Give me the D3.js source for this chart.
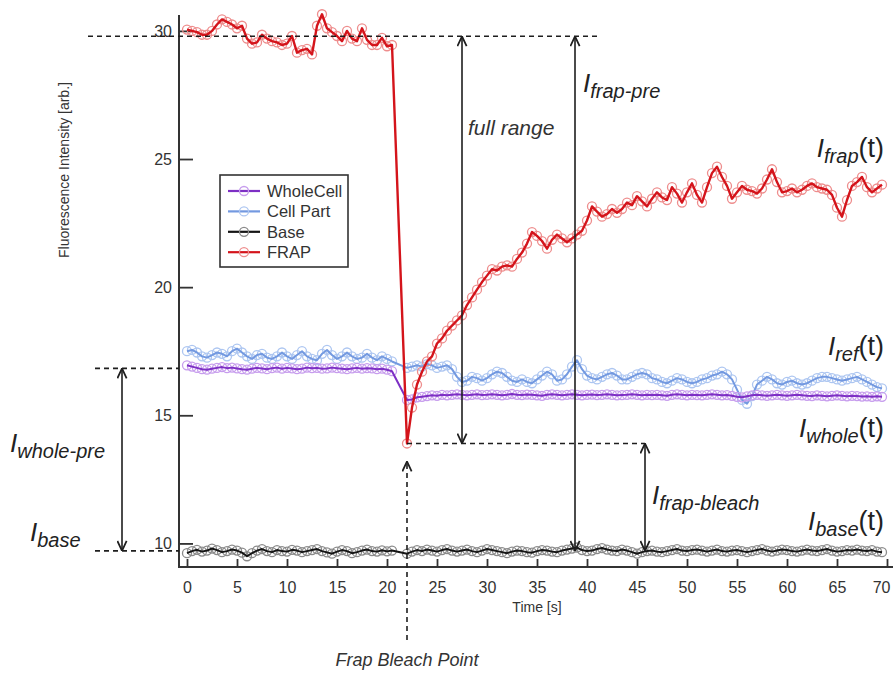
<!DOCTYPE html>
<html>
<head>
<meta charset="utf-8">
<script src="https://cdn.jsdelivr.net/npm/d3@7"></script>
<style>
  html, body { margin: 0; padding: 0; background: #fff; }
  svg { display: block; font-family: "Liberation Sans", Arial, Helvetica, sans-serif; }
</style>
</head>
<body>
<svg id="chart" width="893" height="675"></svg>
<script>
// Sampling grid (s): frames 21.0 and 21.5 are lost to the bleach pulse
const preTimes = d3.range(0, 21, 0.5);     // 0 .. 20.5
const postTimes = d3.range(22, 70, 0.5);   // 22 .. 69.5
const times = preTimes.concat(postTimes);

// Fluorescence intensity [arb.]
const frap = [
  30.05, 30.0, 29.95, 29.85, 29.85, 30.0, 30.25, 30.45, 30.35, 30.25,
  30.1, 30.2, 29.7, 29.5, 29.55, 29.85, 29.7, 29.6, 29.55, 29.45,
  29.5, 29.8, 29.15, 29.25, 29.3, 29.08, 30.2, 30.65, 30.1, 29.95,
  29.8, 29.6, 30.0, 29.7, 29.6, 30.1, 29.65, 29.45, 29.45, 29.73,
  29.4, 29.45,
  13.9, 15.3, 16.2, 16.7, 17.1, 17.3, 17.8, 18.0, 18.3, 18.5,
  18.7, 18.9, 19.3, 19.6, 19.9, 20.2, 20.45, 20.7, 20.65, 20.8,
  20.85, 20.8, 21.1, 21.35, 21.7, 22.15, 22.0, 21.8, 21.5, 21.85,
  22.05, 21.9, 21.75, 21.9, 22.05, 22.2, 22.6, 23.15, 22.95, 22.75,
  22.85, 23.05, 22.9, 23.05, 23.3, 23.2, 23.55, 23.35, 23.15, 23.45,
  23.7, 23.5, 23.4, 23.9, 23.65, 23.3, 23.7, 24.05, 23.6, 23.3,
  23.9, 24.45, 24.7, 24.3, 23.95, 23.45, 23.7, 23.95, 23.8, 23.75,
  23.65, 23.85, 24.2, 24.6, 24.1, 23.7, 23.75, 23.85, 23.7, 23.8,
  23.95, 24.05, 23.9, 23.85, 23.8, 23.6, 23.1, 22.75, 23.4, 23.95,
  24.1, 24.3, 23.9, 23.7, 23.85, 24.0
];

const wholeCell = [
  16.95, 16.9, 16.85, 16.8, 16.78, 16.82, 16.85, 16.88, 16.84, 16.86,
  16.83, 16.8, 16.78, 16.82, 16.85, 16.83, 16.8, 16.84, 16.86, 16.82,
  16.85, 16.83, 16.8, 16.82, 16.86, 16.84, 16.85, 16.82, 16.83, 16.86,
  16.84, 16.82, 16.8, 16.83, 16.85, 16.82, 16.84, 16.83, 16.8, 16.82,
  16.78, 16.72,
  15.6, 15.62, 15.7, 15.72, 15.75, 15.78, 15.76, 15.8, 15.78, 15.8,
  15.82, 15.8, 15.78, 15.8, 15.82, 15.79, 15.8, 15.82, 15.8, 15.78,
  15.8, 15.83, 15.8, 15.79, 15.81, 15.8, 15.78, 15.76, 15.8, 15.82,
  15.8, 15.78, 15.8, 15.82, 15.8, 15.78, 15.8, 15.81, 15.79, 15.8,
  15.82, 15.8, 15.78, 15.79, 15.8, 15.82, 15.8, 15.78, 15.8, 15.79,
  15.8, 15.78, 15.76, 15.8, 15.82, 15.8, 15.78, 15.8, 15.79, 15.78,
  15.8, 15.82, 15.8, 15.78, 15.79, 15.76, 15.72, 15.7, 15.74, 15.78,
  15.8, 15.78, 15.76, 15.78, 15.8, 15.78, 15.76, 15.78, 15.8, 15.78,
  15.76, 15.75, 15.78, 15.76, 15.74, 15.76, 15.78, 15.76, 15.74, 15.76,
  15.75, 15.73, 15.74, 15.72, 15.74, 15.72
];

const cellPart = [
  17.5, 17.55, 17.45, 17.3, 17.25, 17.35, 17.45, 17.4, 17.3, 17.5,
  17.6, 17.45, 17.3, 17.2, 17.35, 17.4, 17.25, 17.2, 17.3, 17.45,
  17.3, 17.2, 17.35, 17.5, 17.3, 17.2, 17.15, 17.4, 17.55, 17.35,
  17.2, 17.3, 17.45, 17.3, 17.2, 17.25, 17.4, 17.25, 17.15, 17.3,
  17.2, 17.1,
  16.85, 16.9, 16.95, 16.9, 17.0, 16.95, 16.85, 16.9, 16.95, 16.8,
  16.5, 16.3, 16.35, 16.5, 16.45, 16.35, 16.45, 16.6, 16.7, 16.65,
  16.5, 16.35, 16.3, 16.4, 16.3, 16.25, 16.4, 16.55, 16.7, 16.6,
  16.35, 16.4, 16.6, 16.9, 17.15, 16.8, 16.55, 16.45, 16.4, 16.5,
  16.6, 16.65, 16.55, 16.4, 16.4, 16.5, 16.6, 16.65, 16.6, 16.45,
  16.4, 16.3, 16.25, 16.35, 16.45, 16.4, 16.3, 16.25, 16.3, 16.4,
  16.45, 16.55, 16.6, 16.7, 16.6, 16.4, 16.0, 15.6, 15.45, 15.75,
  16.2, 16.35, 16.5, 16.4, 16.25, 16.2, 16.3, 16.35, 16.25, 16.2,
  16.25, 16.35, 16.45, 16.5, 16.5, 16.45, 16.4, 16.35, 16.4, 16.45,
  16.5, 16.4, 16.3, 16.2, 16.1, 16.05
];

const base = [
  9.62, 9.7, 9.75, 9.68, 9.72, 9.8, 9.74, 9.66, 9.7, 9.76,
  9.72, 9.64, 9.5, 9.62, 9.72, 9.78, 9.7, 9.66, 9.74, 9.7,
  9.68, 9.75, 9.72, 9.66, 9.7, 9.74, 9.78, 9.7, 9.65, 9.6,
  9.68, 9.74, 9.7, 9.62, 9.66, 9.72, 9.76, 9.7, 9.68, 9.73,
  9.69, 9.72,
  9.6, 9.68, 9.74, 9.7, 9.76, 9.72, 9.68, 9.74, 9.78, 9.72,
  9.68, 9.72, 9.76, 9.7, 9.66, 9.72, 9.78, 9.74, 9.7, 9.66,
  9.62, 9.68, 9.72, 9.7, 9.66, 9.64, 9.7, 9.74, 9.72, 9.68,
  9.66, 9.72, 9.76, 9.8, 9.84, 9.74, 9.7, 9.72, 9.78, 9.82,
  9.76, 9.72, 9.7, 9.76, 9.72, 9.66, 9.6, 9.66, 9.7, 9.72,
  9.68, 9.66, 9.7, 9.74, 9.78, 9.72, 9.7, 9.74, 9.76, 9.72,
  9.68, 9.72, 9.76, 9.7, 9.68, 9.72, 9.74, 9.7, 9.66, 9.7,
  9.74, 9.78, 9.72, 9.68, 9.72, 9.76, 9.74, 9.7, 9.68, 9.72,
  9.76, 9.72, 9.7, 9.74, 9.78, 9.72, 9.68, 9.7, 9.74, 9.72,
  9.76, 9.72, 9.7, 9.74, 9.68, 9.66
];

const xTicks = [0, 5, 10, 15, 20, 25, 30, 35, 40, 45, 50, 55, 60, 65, 70];
const yTicks = [10, 15, 20, 25, 30];

const seriesNames = ["WholeCell", "Cell Part", "Base", "FRAP"];
const seriesColors = {
  "WholeCell": { line: "#7d2fc4", ring: "#c79ded" },
  "Cell Part": { line: "#7399e0", ring: "#adc6f1" },
  "Base":      { line: "#151515", ring: "#8a8a8a" },
  "FRAP":      { line: "#d4141b", ring: "#ee8d8d" }
};
const seriesData = {
  "WholeCell": wholeCell, "Cell Part": cellPart, "Base": base, "FRAP": frap
};

// Time points used by the annotations (s)
const bleachTime = 22;
const fullRangeAt = 27.5;
const frapPreAt = 38.8;
const frapBleachAt = 45.8;

const svg = d3.select("#chart");
const x = d3.scaleLinear().domain([-0.8, 71]).range([179, 897]);
const y = d3.scaleLinear().domain([9.08, 30.62]).range([567, 15]);

const axisColor = "#333";

// ---- axes ----
const yAxis = svg.append("g")
  .attr("transform", `translate(${x(-0.8)},0)`)
  .call(d3.axisLeft(y).tickValues(yTicks).tickSize(-14).tickPadding(7).tickFormat(d3.format("d")));
yAxis.select(".domain").remove();
yAxis.selectAll(".tick line").attr("stroke", axisColor).attr("stroke-width", 1.8);
yAxis.selectAll(".tick text").attr("fill", "#333").attr("font-size", 16)
  .attr("font-family", "Liberation Sans, Arial, sans-serif");

const xAxis = svg.append("g")
  .attr("transform", `translate(0,${y(9.08)})`)
  .call(d3.axisBottom(x).tickValues(xTicks).tickSize(-8).tickPadding(14.5).tickFormat(d3.format("d")));
xAxis.select(".domain").remove();
xAxis.selectAll(".tick line").attr("stroke", axisColor).attr("stroke-width", 1.8);
xAxis.selectAll(".tick text").attr("fill", "#333").attr("font-size", 16)
  .attr("font-family", "Liberation Sans, Arial, sans-serif");
// the last label sits at the right border; keep it inside the frame
xAxis.selectAll(".tick text").filter(d => d === 70)
  .attr("text-anchor", "end").attr("dx", 3);

svg.append("line")
  .attr("x1", x(-0.8)).attr("x2", x(-0.8))
  .attr("y1", y(30.62)).attr("y2", y(9.08))
  .attr("stroke", axisColor).attr("stroke-width", 2);
svg.append("line")
  .attr("x1", x(-0.8) - 1).attr("x2", x(71))
  .attr("y1", y(9.08)).attr("y2", y(9.08))
  .attr("stroke", axisColor).attr("stroke-width", 2);

svg.append("text")
  .attr("transform", `translate(69,170) rotate(-90)`)
  .attr("text-anchor", "middle")
  .attr("font-size", 14).attr("fill", "#333")
  .text("Fluorescence Intensity [arb.]");

svg.append("text")
  .attr("x", x(35)).attr("y", 612)
  .attr("text-anchor", "middle")
  .attr("font-size", 14).attr("fill", "#333")
  .text("Time [s]");

// ---- series ----
const line = d3.line().x((d, i) => x(times[i])).y(d => y(d));
const drawOrder = ["Base", "Cell Part", "WholeCell", "FRAP"];
drawOrder.forEach(name => {
  const vals = seriesData[name];
  const c = seriesColors[name];
  const g = svg.append("g").attr("class", "series");
  g.selectAll("circle").data(vals).join("circle")
    .attr("cx", (d, i) => x(times[i]))
    .attr("cy", d => y(d))
    .attr("r", 4.5)
    .attr("fill", "none")
    .attr("stroke", c.ring)
    .attr("stroke-width", 1.3);
  g.append("path")
    .datum(vals)
    .attr("d", line)
    .attr("fill", "none")
    .attr("stroke", c.line)
    .attr("stroke-width", name === "FRAP" ? 2.4 : 2)
    .attr("stroke-linejoin", "round");
});

// ---- legend ----
const lg = svg.append("g");
lg.append("rect")
  .attr("x", 220).attr("y", 175).attr("width", 128).attr("height", 92)
  .attr("fill", "#fff").attr("stroke", "#333").attr("stroke-width", 1.6);
seriesNames.forEach((name, i) => {
  const cy = 191 + i * 20.4;
  const c = seriesColors[name];
  lg.append("line").attr("x1", 228).attr("x2", 260).attr("y1", cy).attr("y2", cy)
    .attr("stroke", c.line).attr("stroke-width", 2.2);
  lg.append("circle").attr("cx", 244).attr("cy", cy).attr("r", 4.5)
    .attr("fill", "none").attr("stroke", c.ring).attr("stroke-width", 1.3);
  lg.append("text").attr("x", 267).attr("y", cy).attr("dy", "0.35em")
    .attr("font-size", 16.5).attr("fill", "#333").text(name);
});

// ---- annotations ----
const ink = "#1e1e1e";
const defs = svg.append("defs");
defs.append("marker")
  .attr("id", "vhead")
  .attr("viewBox", "0 0 10 10")
  .attr("refX", 9.5).attr("refY", 5)
  .attr("markerWidth", 11).attr("markerHeight", 11)
  .attr("markerUnits", "userSpaceOnUse")
  .attr("orient", "auto-start-reverse")
  .append("path")
  .attr("d", "M0.5,0.8 L9.5,5 L0.5,9.2")
  .attr("fill", "none").attr("stroke", ink).attr("stroke-width", 1.6);

const frapPre = d3.mean(frap.slice(0, preTimes.length));
const wholePre = d3.mean(wholeCell.slice(0, preTimes.length));
const baseLevel = d3.mean(base);
const bleachValue = frap[preTimes.length];

function dashed(x1, y1, x2, y2) {
  svg.append("line")
    .attr("x1", x1).attr("y1", y1).attr("x2", x2).attr("y2", y2)
    .attr("stroke", ink).attr("stroke-width", 1.6)
    .attr("stroke-dasharray", "5,4");
}
function doubleArrow(t, v1, v2) {
  svg.append("line")
    .attr("x1", x(t)).attr("x2", x(t))
    .attr("y1", y(v1)).attr("y2", y(v2))
    .attr("stroke", ink).attr("stroke-width", 1.6)
    .attr("marker-start", "url(#vhead)")
    .attr("marker-end", "url(#vhead)");
}

dashed(x(-9.9), y(frapPre), x(41), y(frapPre));
dashed(x(-9.2), y(wholePre), x(-0.8), y(wholePre));
dashed(x(-9.2), y(baseLevel), x(-0.8), y(baseLevel));
dashed(x(bleachTime), y(bleachValue), x(frapBleachAt), y(bleachValue));

doubleArrow(-6.5, wholePre, baseLevel);
doubleArrow(fullRangeAt, frapPre, bleachValue);
doubleArrow(frapPreAt, frapPre, baseLevel);
doubleArrow(frapBleachAt, bleachValue, baseLevel);

// bleach point pointer
svg.append("line")
  .attr("x1", x(bleachTime)).attr("x2", x(bleachTime))
  .attr("y1", 640).attr("y2", y(bleachValue) + 18)
  .attr("stroke", ink).attr("stroke-width", 1.6)
  .attr("stroke-dasharray", "5,4")
  .attr("marker-end", "url(#vhead)");

svg.append("text")
  .attr("x", x(bleachTime)).attr("y", 666)
  .attr("text-anchor", "middle")
  .attr("font-size", 18).attr("font-style", "italic").attr("fill", "#333")
  .text("Frap Bleach Point");

svg.append("text")
  .attr("x", 468).attr("y", 135)
  .attr("font-size", 21).attr("font-style", "italic").attr("fill", "#333")
  .text("full range");

function symbol(px, py, sub, withT, anchor) {
  const t = svg.append("text")
    .attr("x", px).attr("y", py)
    .attr("text-anchor", anchor || "start")
    .attr("fill", "#222");
  t.append("tspan").attr("font-size", 26).attr("font-style", "italic").text("I");
  t.append("tspan").attr("font-size", 20).attr("font-style", "italic")
    .attr("dy", 6).text(sub);
  if (withT) {
    t.append("tspan").attr("font-size", 27).attr("dy", -6).text("(t)");
  }
}

symbol(583, 92, "frap-pre", false);
symbol(884, 157, "frap", true, "end");
symbol(884, 355, "ref", true, "end");
symbol(884, 437, "whole", true, "end");
symbol(652, 504, "frap-bleach", false);
symbol(884, 530, "base", true, "end");
symbol(10, 452, "whole-pre", false);
symbol(30, 541, "base", false);
</script>
</body>
</html>
